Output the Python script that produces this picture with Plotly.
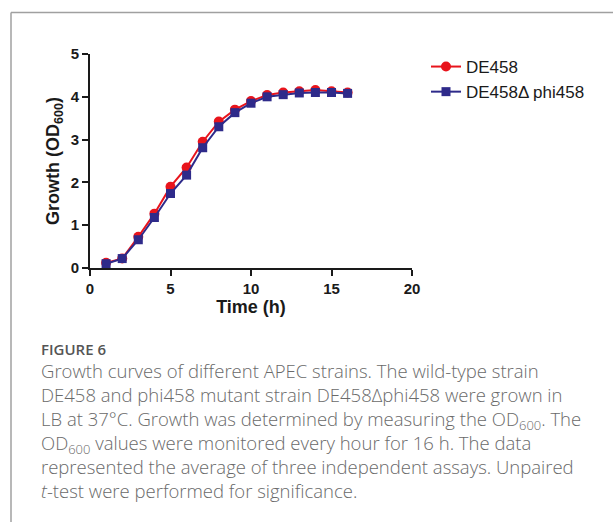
import plotly.graph_objects as go

hours = list(range(1, 17))
de458 = [0.12, 0.22, 0.73, 1.27, 1.90, 2.35, 2.95, 3.42, 3.70, 3.90, 4.04, 4.10, 4.13, 4.16, 4.13, 4.10]
mutant = [0.10, 0.22, 0.66, 1.18, 1.74, 2.17, 2.81, 3.30, 3.63, 3.85, 4.00, 4.05, 4.09, 4.10, 4.10, 4.08]
series_names = ["DE458", "DE458Δ phi458"]
x_ticks = [0, 5, 10, 15, 20]
y_ticks = [0, 1, 2, 3, 4, 5]

W, H = 613, 522
RED = "#e8141c"
BLUE = "#2e2a8a"
INK = "#1a1a1a"

fig = go.Figure()
fig.add_trace(go.Scatter(x=hours, y=de458, mode="lines+markers", name=series_names[0],
                         line=dict(color=RED, width=2),
                         marker=dict(symbol="circle", size=10, color=RED), cliponaxis=False))
fig.add_trace(go.Scatter(x=hours, y=mutant, mode="lines+markers", name=series_names[1],
                         line=dict(color=BLUE, width=2),
                         marker=dict(symbol="square", size=9, color=BLUE), cliponaxis=False))

def px(x):
    return x / W

def py(y):
    return 1 - y / H

tick_font = dict(family="Liberation Sans, Arial", size=15, color=INK, weight="bold")
title_font = dict(family="Liberation Sans, Arial", size=18, color=INK)
fig.update_layout(
    width=W, height=H,
    margin=dict(l=0, r=0, t=0, b=0, autoexpand=False),
    paper_bgcolor="white", plot_bgcolor="white",
    xaxis=dict(domain=[px(90), px(412)], range=[0, 20], tickvals=x_ticks,
               showline=True, linecolor=INK, linewidth=2, ticks="outside",
               ticklen=6, tickwidth=2, tickcolor=INK, showgrid=False, zeroline=False,
               tickfont=tick_font, anchor="y", automargin=False,
               title=dict(text="<b>Time (h)</b>", font=title_font, standoff=4)),
    yaxis=dict(domain=[py(268), py(54)], range=[0, 5], tickvals=y_ticks,
               showline=True, linecolor=INK, linewidth=2, ticks="outside",
               ticklen=6, tickwidth=2, tickcolor=INK, showgrid=False, zeroline=False,
               tickfont=tick_font, anchor="x", automargin=False,
               title=dict(text="<b>Growth (OD<sub>600</sub>)</b>", font=title_font, standoff=6)),
    legend=dict(x=px(426), y=py(49), xanchor="left", yanchor="top",
                font=dict(family="Liberation Sans, Arial", size=17, color=INK),
                bgcolor="rgba(0,0,0,0)", itemwidth=30, tracegroupgap=0),
    showlegend=True,
)

# frame lines
fig.add_shape(type="line", xref="paper", yref="paper", x0=px(11), x1=1, y0=py(12.5), y1=py(12.5),
              line=dict(color="#a0a0a0", width=1.5))
fig.add_shape(type="line", xref="paper", yref="paper", x0=px(11), x1=px(11), y0=py(12.5), y1=0,
              line=dict(color="#a0a0a0", width=1.5))

fig.add_annotation(text="FIGURE 6", xref="paper", yref="paper", x=px(39), y=py(349),
                   xanchor="left", yanchor="middle", showarrow=False,
                   font=dict(family="Open Sans", size=15, color="#555555", weight=600))

caption_lines = [
    "Growth curves of different APEC strains. The wild-type strain",
    "DE458 and phi458 mutant strain DE458Δphi458 were grown in",
    "LB at 37°C. Growth was determined by measuring the OD<sub>600</sub>. The",
    "OD<sub>600</sub> values were monitored every hour for 16 h. The data",
    "represented the average of three independent assays. Unpaired",
    "<i>t</i>-test were performed for significance.",
]
fig.add_annotation(text="<br>".join(caption_lines), xref="paper", yref="paper",
                   x=px(39), y=py(356), xanchor="left", yanchor="top", align="left",
                   showarrow=False,
                   font=dict(family="Open Sans", size=18.5, color="#6a6a6a", weight=300))

fig.write_html("out.html")
